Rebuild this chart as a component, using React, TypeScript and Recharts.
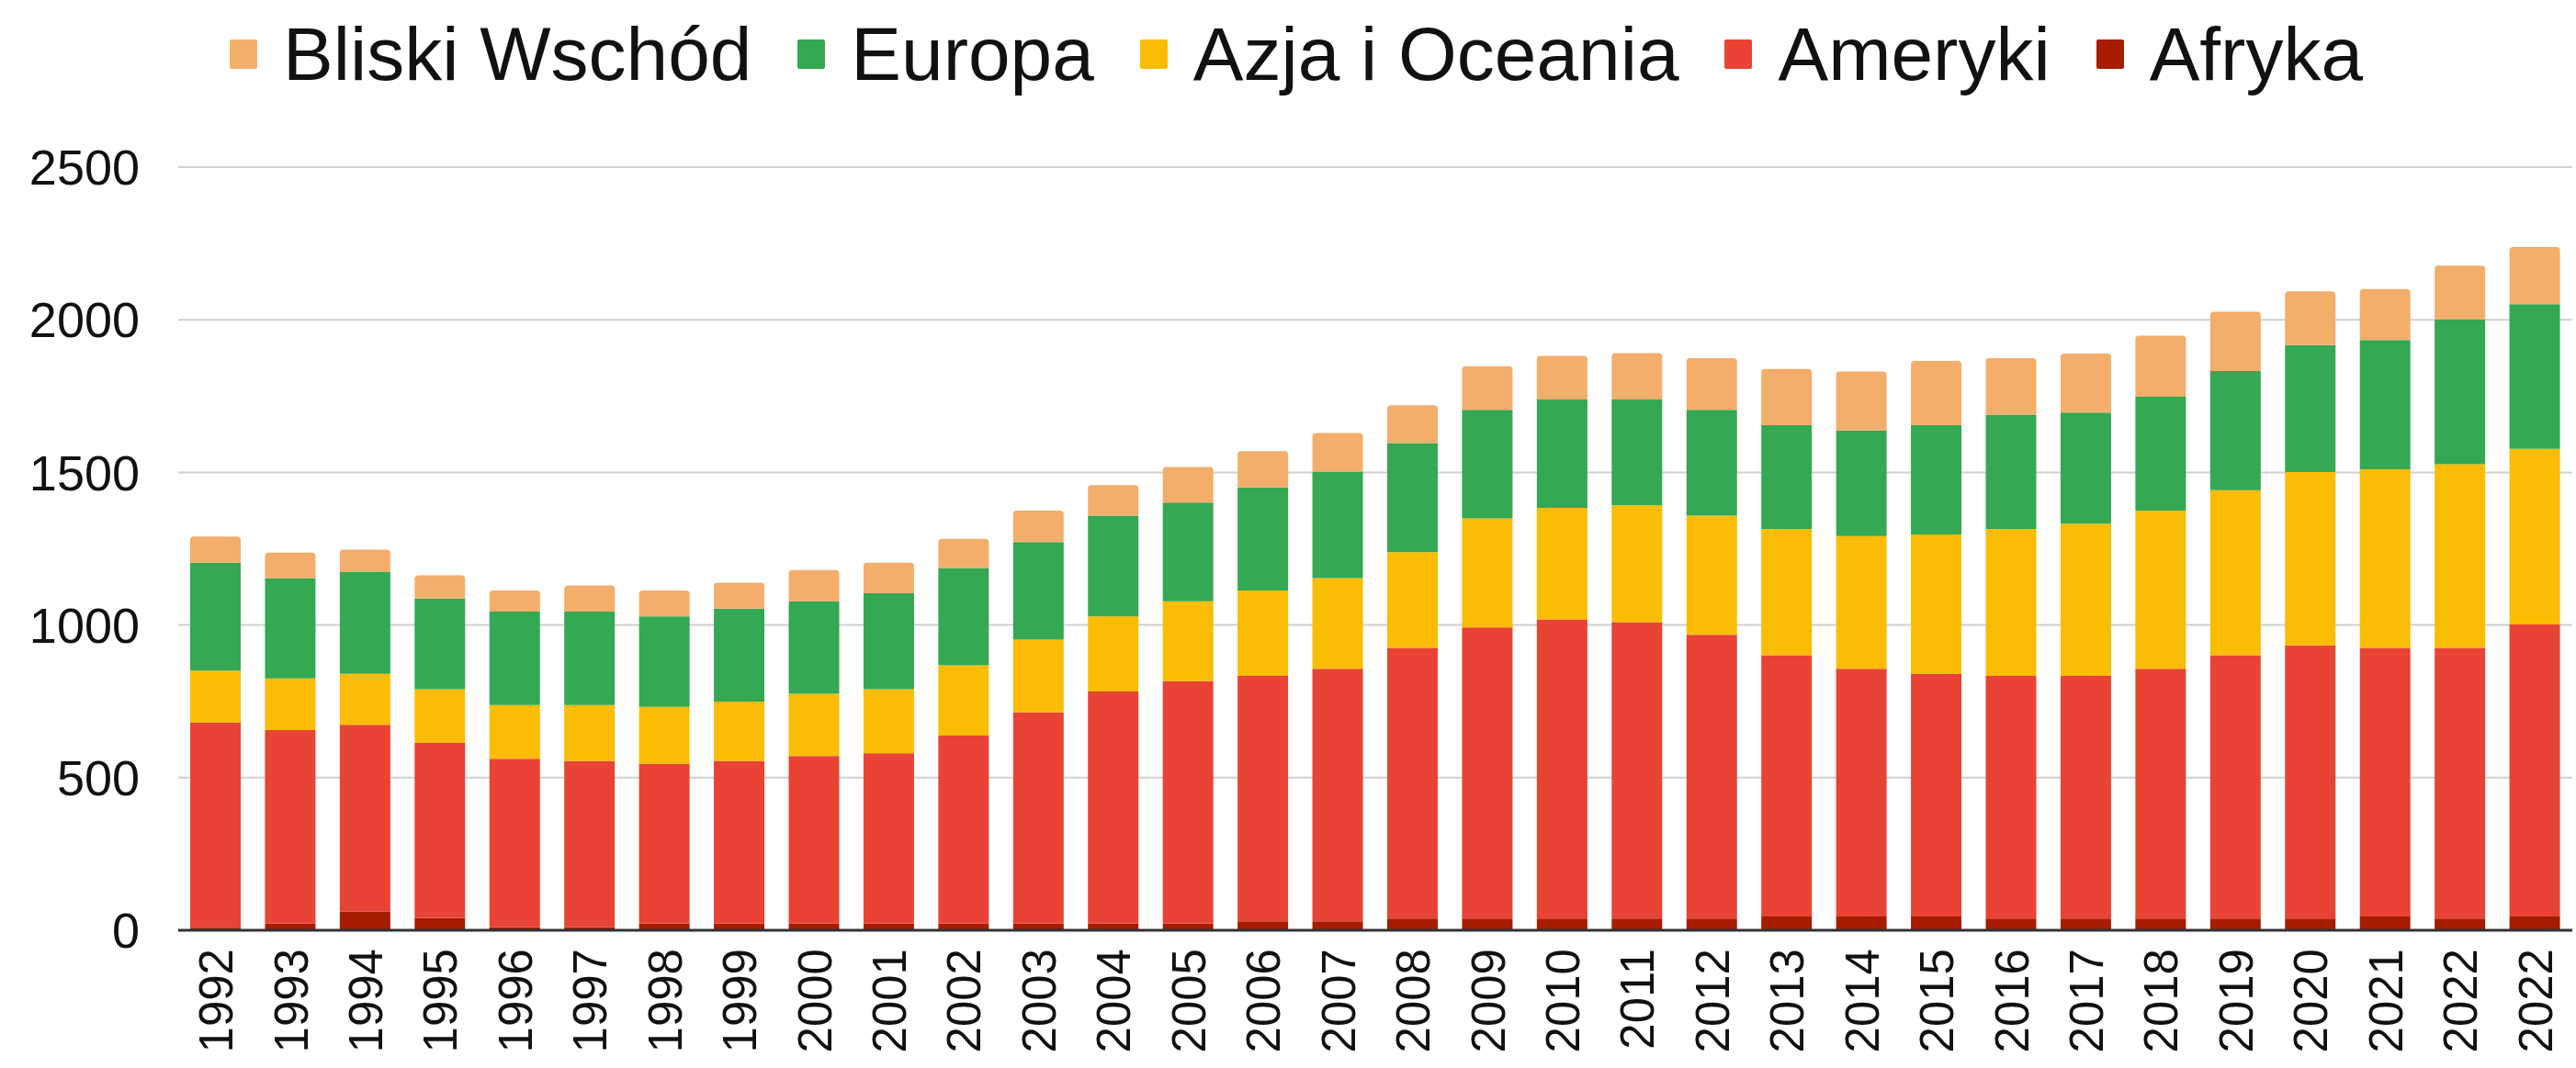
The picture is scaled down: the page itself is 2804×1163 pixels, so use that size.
import { BarChart, Bar, XAxis, YAxis, CartesianGrid } from 'recharts';

const years = [
  '1992', '1993', '1994', '1995', '1996', '1997', '1998', '1999', '2000', '2001',
  '2002', '2003', '2004', '2005', '2006', '2007', '2008', '2009', '2010', '2011',
  '2012', '2013', '2014', '2015', '2016', '2017', '2018', '2019', '2020', '2021',
  '2022', '2022',
];

const afryka = [8, 22, 62, 40, 10, 10, 22, 22, 22, 22, 22, 22, 22, 22, 29, 29, 38, 38, 38, 38, 38, 45, 45, 45, 38, 38, 38, 38, 38, 45, 38, 45];
const ameryki = [673, 634, 611, 574, 552, 544, 523, 532, 549, 558, 616, 692, 760, 794, 804, 828, 887, 954, 980, 971, 930, 856, 812, 795, 795, 795, 819, 863, 895, 880, 887, 957];
const azja = [170, 169, 167, 176, 176, 184, 187, 195, 204, 210, 230, 238, 246, 262, 280, 297, 314, 357, 366, 383, 390, 414, 434, 457, 482, 499, 518, 541, 568, 585, 602, 575];
const europa = [353, 329, 333, 297, 306, 306, 296, 305, 303, 314, 319, 320, 330, 323, 338, 349, 357, 356, 355, 347, 347, 340, 346, 358, 374, 364, 373, 390, 416, 424, 474, 474];
const bliskiWschod = [86, 83, 74, 76, 69, 86, 85, 85, 102, 100, 95, 103, 100, 117, 119, 126, 124, 143, 143, 152, 169, 184, 194, 210, 185, 193, 200, 194, 176, 167, 176, 187];

const yTicks = [0, 500, 1000, 1500, 2000, 2500];

const series = [
  { key: 'bliskiWschod', name: 'Bliski Wschód', color: '#f4ae6b' },
  { key: 'europa', name: 'Europa', color: '#34a853' },
  { key: 'azja', name: 'Azja i Oceania', color: '#fbbc04' },
  { key: 'ameryki', name: 'Ameryki', color: '#e84335' },
  { key: 'afryka', name: 'Afryka', color: '#a51c00' },
];

const data = years.map((year, i) => ({
  id: i,
  year,
  afryka: afryka[i],
  ameryki: ameryki[i],
  azja: azja[i],
  europa: europa[i],
  bliskiWschod: bliskiWschod[i],
}));

const FONT = '"Liberation Sans", Arial, sans-serif';

const YearTick = ({ x, y, payload }: any) => (
  <text
    x={x}
    y={y + 12}
    transform={`rotate(-90, ${x}, ${y + 12})`}
    textAnchor="end"
    dy="0.36em"
    fontSize={51}
    fontFamily={FONT}
    fill="#111"
  >
    {years[payload.value]}
  </text>
);

const Legend = () => (
  <div
    style={{
      position: 'absolute',
      left: 250,
      top: 18,
      display: 'flex',
      alignItems: 'center',
      fontFamily: FONT,
      fontSize: 82,
      lineHeight: 1,
      color: '#111',
      whiteSpace: 'nowrap',
    }}
  >
    {series.map((s) => (
      <div key={s.key} style={{ display: 'flex', alignItems: 'center', marginRight: 50 }}>
        <span style={{ width: 30, height: 32, background: s.color, borderRadius: 2, marginRight: 28, display: 'inline-block' }} />
        <span>{s.name}</span>
      </div>
    ))}
  </div>
);

export default function App() {
  // stack bottom-up: Afryka first, Bliski Wschód on top
  const stackOrder = [...series].reverse();
  return (
    <div style={{ position: 'absolute', left: 0, top: 0, width: 2804, height: 1163, background: '#fff' }}>
      <Legend />
      <BarChart
        width={2804}
        height={1163}
        data={data}
        margin={{ top: 182, right: 4, left: 0, bottom: 0 }}
        barSize={55}
      >
        <CartesianGrid vertical={false} stroke="#cfcfcf" strokeWidth={2} />
        <XAxis
          dataKey="id"
          type="category"
          interval={0}
          height={150}
          tick={<YearTick />}
          tickLine={false}
          axisLine={{ stroke: '#333', strokeWidth: 3 }}
        />
        <YAxis
          width={194}
          domain={[0, 2500]}
          ticks={yTicks}
          interval={0}
          tickLine={false}
          axisLine={false}
          tickSize={0}
          tickMargin={42}
          tick={{ fontSize: 54, fontFamily: FONT, fill: '#111' }}
        />
        {stackOrder.map((s, idx) => (
          <Bar
            key={s.key}
            dataKey={s.key}
            name={s.name}
            stackId="a"
            fill={s.color}
            radius={idx === stackOrder.length - 1 ? [4, 4, 0, 0] : 0}
            isAnimationActive={false}
          />
        ))}
      </BarChart>
    </div>
  );
}
